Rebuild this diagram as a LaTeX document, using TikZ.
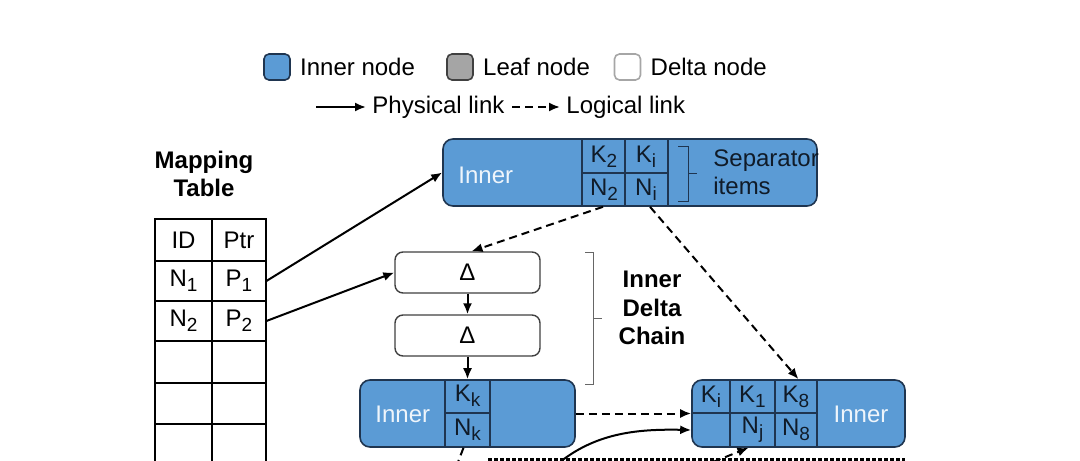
\documentclass[tikz,border=0pt]{standalone}
\usepackage{fontspec}
\setmainfont{Liberation Sans}
\usetikzlibrary{arrows.meta,positioning}
\definecolor{innerblue}{HTML}{5B9BD5}
\definecolor{navy}{HTML}{1F3550}
\definecolor{leafgray}{HTML}{A5A5A5}
\newcommand{\sbs}[1]{\raisebox{-0.4ex}{\fontsize{9.5}{9.5}\selectfont #1}}
\tikzset{inr/.style={draw=navy,fill=innerblue,rounded corners=5pt,line width=0.8pt,inner sep=0pt},
 dlt/.style={draw=black!75,fill=white,rounded corners=4pt,line width=0.7pt,minimum width=72.5pt,minimum height=20.5pt,inner sep=0pt,font=\fontsize{12}{14}\selectfont},
 sq/.style={minimum size=13pt,rounded corners=2.5pt,line width=0.8pt,inner sep=0pt},
 ar/.style={-{Latex[length=5.5pt,width=4.5pt]},line width=1pt},
 lg/.style={ar,dash pattern=on 4pt off 2.5pt},
 cl/.style={draw=navy,line width=0.6pt},
 txt/.style={font=\fontsize{12}{14}\selectfont,inner sep=0pt},
 wt/.style={txt,text=white!90!innerblue},
 kn/.style={txt,text=navy!50!black},
 cell/.style={txt,minimum width=27pt,minimum height=20pt}}
\begin{document}
\begin{tikzpicture}[x=0.5pt,y=-0.5pt]
\clip (0,0) rectangle (1080,460);
% legend
\node[sq,draw=navy,fill=innerblue](lgi) at (277,67){};\node[txt,right=4.5pt of lgi](lgit){Inner node};
\node[sq,draw=black!75,fill=leafgray](lgl) at (460,67){};\node[txt,right=4.5pt of lgl](lglt){Leaf node};
\node[sq,draw=black!35,fill=white](lgd) at (627.5,67){};\node[txt,right=4.5pt of lgd](lgdt){Delta node};
\node[txt,anchor=west](phys) at (372,107){Physical link};\coordinate (pa) at (316,107);
\node[txt,anchor=west](logi) at (566,107){Logical link};\coordinate (la) at (512,107);
\draw[ar](pa)--([xshift=-3pt]phys.west);\draw[lg](la)--([xshift=-3pt]logi.west);
% mapping table
\node[txt,font=\fontsize{12}{14}\selectfont\bfseries,align=center](mtt) at (204,174){Mapping\\Table};
\draw[line width=0.7pt](155,219) rectangle (266,470);\draw[line width=0.7pt](212,219)--(212,470);
\foreach \y in {261,301,341,383,424}{\draw[line width=0.7pt](155,\y)--(266,\y);}
\node[cell](id) at (183.5,240){ID};\node[cell](ptr) at (239,240){Ptr};
\node[cell](n1) at (183.5,281){N\sbs{1}};\node[cell](p1) at (239,281){P\sbs{1}};
\node[cell](n2) at (183.5,321){N\sbs{2}};\node[cell](p2) at (239,321){P\sbs{2}};
% top inner node
\node[inr,minimum width=187pt,minimum height=33.5pt](top) at (630,172.5){};
\draw[cl](582,139)--(582,206) (625,139)--(625,206) (668,139)--(668,206) (582,173)--(668,173);
\node[wt,anchor=west](topt) at (458,175){Inner};
\node[kn](k2) at (604,157){K\sbs{2}};\node[kn](ki) at (646,157){K\sbs{i}};
\node[kn](n2t) at (604,190){N\sbs{2}};\node[kn](nit) at (646,190){N\sbs{i}};
\draw[navy,line width=0.5pt](678,146)--(688,146)--(688,201)--(678,201) (688,173)--(697,173);
\node[kn,anchor=west,align=left](sep) at (713,172){Separator\\items};
% delta chain
\node[dlt](d1) at (467.5,272.5){Δ};\node[dlt](d2) at (467.5,335.5){Δ};
\node[inr,minimum width=107.5pt,minimum height=33.5pt](lft) at (467.5,413.5){};
\draw[cl](445,380)--(445,447) (490,380)--(490,447) (445,413)--(490,413);
\node[wt,anchor=west](lftt) at (375,414){Inner};
\node[kn](kk) at (467.5,396){K\sbs{k}};\node[kn](nk) at (467.5,430){N\sbs{k}};
\draw[black!60,line width=0.5pt](585,252)--(593,252)--(593,384)--(585,384) (593,318)--(602,318);
\node[txt,font=\fontsize{12}{14.25}\selectfont\bfseries,align=center](idc) at (652,308){Inner\\Delta\\Chain};
% right inner node
\node[inr,minimum width=106.5pt,minimum height=33.5pt](rgt) at (798.5,413.5){};
\draw[cl](730,380)--(730,447) (775,380)--(775,447) (817,380)--(817,447) (692,413)--(817,413);
\node[kn](rki) at (711,397){K\sbs{i}};\node[kn](rk1) at (752.5,397){K\sbs{1}};\node[kn](rk8) at (796,397){K\sbs{8}};
\node[kn](rnj) at (752.5,430){N\sbs{j}};\node[kn](rn8) at (796,430){N\sbs{8}};
\node[wt](rgtt) at (861,414){Inner};
% links
\draw[ar](p1.east)--(top.west);\draw[ar](p2.east)--(d1.west);
\draw[ar](d1)--(d2);\draw[ar](d2)--(lft);
\draw[lg]([xshift=-13.5pt]top.south)--([xshift=2pt]d1.north);
\draw[lg]([xshift=10pt]top.south)--(rgt.north);
\draw[lg](lft.east)--(rgt.west);
\coordinate (cs) at (560,462);\draw[ar](cs) .. controls (598,432) and (640,429) .. ([yshift=-8.25pt]rgt.west);
\coordinate (da) at (488,459);\coordinate (db) at (905,459);
\draw[line width=1.5pt,dash pattern=on 2pt off 1pt](da)--(db);
\coordinate (nkd) at (458,462);\draw[lg,-]([xshift=-2pt]lft.south)--(nkd);
\coordinate (njd) at (713,462);\draw[lg](njd)--([xshift=-25pt]rgt.south);
\end{tikzpicture}
\end{document}
